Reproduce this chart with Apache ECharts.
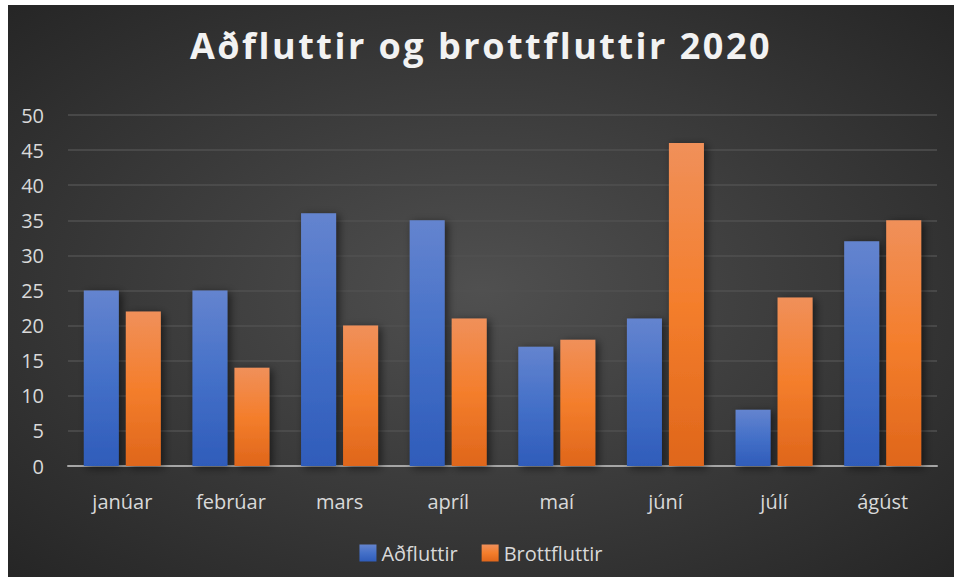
<!DOCTYPE html>
<html>
<head>
    <meta charset="utf-8">
    <title>echarts</title>
    <script src="https://cdn.jsdelivr.net/npm/echarts@6/dist/echarts.min.js"></script>
    <style>
        /* title in the original is letter-spaced */
        #main text[style*="bold"] { letter-spacing: 2.5px; }
    </style>
</head>
<body style="margin:0;background-color:#fff;">
    <div id="main" style="position:absolute;left:8px;top:5px;width:946px;height:572px;"></div>
    <script type="text/javascript">
        var months = ['janúar', 'febrúar', 'mars', 'apríl', 'maí', 'júní', 'júlí', 'ágúst'];
        var adfluttir = [25, 25, 36, 35, 17, 21, 8, 32];
        var brottfluttir = [22, 14, 20, 21, 18, 46, 24, 35];

        var myChart = echarts.init(document.getElementById('main'), null, {renderer: 'svg'});

        // Excel-like vertical gradient for bars
        function barGrad(top, mid, bottom) {
            return new echarts.graphic.LinearGradient(0, 0, 0, 1, [
                {offset: 0, color: top},
                {offset: 0.5, color: mid},
                {offset: 1, color: bottom}
            ]);
        }

        var labelFont = '"Open Sans", sans-serif';

        option = {
            backgroundColor: new echarts.graphic.RadialGradient(0.5, 0.5, 0.7, [
                {offset: 0, color: '#505050'},
                {offset: 1, color: '#262626'}
            ]),
            title: {
                text: 'Aðfluttir og brottfluttir 2020',
                left: 'center',
                top: 17,
                padding: [5, 0, 5, 12],
                textStyle: {
                    color: '#f2f2f2',
                    fontFamily: labelFont,
                    fontWeight: 'bold',
                    fontSize: 36
                }
            },
            legend: {
                bottom: 9,
                left: 'center',
                icon: 'rect',
                itemWidth: 17,
                itemHeight: 17,
                itemGap: 24,
                textStyle: {color: '#d9d9d9', fontSize: 20, fontFamily: labelFont}
            },
            grid: {left: 60, right: 17, top: 110, bottom: 111},
            xAxis: {
                type: 'category',
                data: months,
                axisLine: {lineStyle: {color: '#a6a6a6', width: 2}},
                axisTick: {show: false},
                axisLabel: {color: '#d9d9d9', fontSize: 20, fontFamily: labelFont, margin: 25}
            },
            yAxis: {
                type: 'value',
                min: 0,
                max: 50,
                interval: 5,
                axisLine: {show: false},
                axisTick: {show: false},
                axisLabel: {color: '#d9d9d9', fontSize: 20, fontFamily: labelFont, margin: 24},
                splitLine: {lineStyle: {color: '#505050', width: 1.5}}
            },
            series: [
                {
                    name: 'Aðfluttir',
                    type: 'bar',
                    data: adfluttir,
                    barWidth: 35,
                    barGap: '20%',
                    itemStyle: {
                        color: barGrad('#6484cf', '#4470c8', '#2f5cba'),
                        shadowColor: 'rgba(0,0,0,0.55)',
                        shadowBlur: 8,
                        shadowOffsetX: 3,
                        shadowOffsetY: 2
                    }
                },
                {
                    name: 'Brottfluttir',
                    type: 'bar',
                    data: brottfluttir,
                    barWidth: 35,
                    itemStyle: {
                        color: barGrad('#f0905a', '#f47e2c', '#df661b'),
                        shadowColor: 'rgba(0,0,0,0.55)',
                        shadowBlur: 8,
                        shadowOffsetX: 3,
                        shadowOffsetY: 2
                    }
                }
            ]
        };

        myChart.setOption(option);
    </script>
</body>
</html>
